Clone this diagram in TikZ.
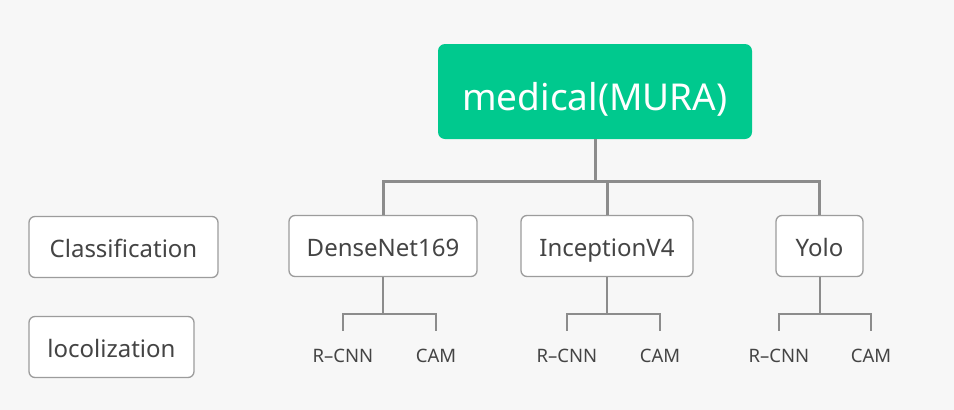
\documentclass[tikz,border=0pt]{standalone}
\usepackage{fontspec}
\setsansfont{Noto Sans}
\usepackage{xcolor}
\usepackage{tikz}
\definecolor{mura}{HTML}{00C98E}
\definecolor{bggray}{HTML}{F7F7F7}
\definecolor{linegray}{HTML}{8C8C8C}
\definecolor{boxgray}{HTML}{9C9C9C}
\definecolor{txtgray}{HTML}{444444}

\begin{document}
\begin{tikzpicture}[x=1pt,y=-1pt,font=\sffamily,
        netbox/.style={draw=boxgray,line width=1.3pt,fill=white,rounded corners=6pt,minimum height=61pt,
            inner sep=0pt,text height=21pt,text depth=0pt,text=txtgray,font=\sffamily\fontsize{24}{28}\selectfont},
        leaf/.style={inner sep=3pt,text height=14pt,text depth=0pt,text=txtgray,font=\sffamily\fontsize{18.5}{20}\selectfont},
        trunk/.style={draw=linegray,line width=3pt},
        twig/.style={draw=linegray,line width=2pt}]
    \useasboundingbox [fill=bggray] (0,0) rectangle (954,410);
    \node [fill=mura,rounded corners=7pt,minimum width=314pt,minimum height=95pt,inner sep=0pt,
        text height=37pt,text depth=0pt,text=white,font=\sffamily\fontsize{37}{40}\selectfont] (mura) at (595,91.5) {medical(MURA)};
    \node [netbox,minimum width=189pt] (cls) at (123.5,247) {Classification};
    \node [netbox,minimum width=165pt] (loc) at (111.5,347) {locolization};
    \node [netbox,minimum width=188pt] (dense) at (383,246) {DenseNet169};
    \node [netbox,minimum width=172pt] (incep) at (607,246) {InceptionV4};
    \node [netbox,minimum width=87pt] (yolo) at (819.5,246) {Yolo};
    \coordinate (bar) at (595,181);
    \draw [trunk] (mura.south) -- (bar);
    \draw [trunk] (dense.north) |- (bar) -| (yolo.north);
    \draw [trunk] (incep.north) -- (incep.north |- bar);
    % leaves under each net
    \foreach \net/\i/\l/\r in {dense/1/343/436,incep/2/567/660,yolo/3/779/871} {
        \node [leaf] (rcnn\i) at (\l,355) {R--CNN};
        \node [leaf] (cam\i) at (\r,355) {CAM};
        \draw [twig] (\net.south) -- ++(0,36.5) coordinate (fork\i);
        \draw [twig] ([yshift=14pt]rcnn\i.north) |- (fork\i) -| ([yshift=14pt]cam\i.north);
    }
\end{tikzpicture}
\end{document}
